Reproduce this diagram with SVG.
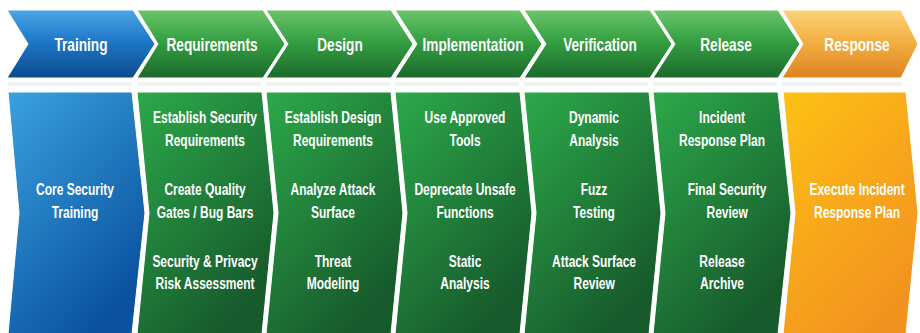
<svg xmlns="http://www.w3.org/2000/svg" width="920" height="333" viewBox="0 0 920 333">
<defs>
<linearGradient id="hb" x1="0" y1="0" x2="0" y2="1"><stop offset="0" stop-color="#4aa6e6"/><stop offset="0.45" stop-color="#1f78c8"/><stop offset="1" stop-color="#0b4a8e"/></linearGradient>
<linearGradient id="hg" x1="0" y1="0" x2="0" y2="1"><stop offset="0" stop-color="#6cc56a"/><stop offset="0.45" stop-color="#35a043"/><stop offset="1" stop-color="#1c6a2b"/></linearGradient>
<linearGradient id="ho" x1="0" y1="0" x2="0" y2="1"><stop offset="0" stop-color="#fbd27a"/><stop offset="0.45" stop-color="#f3b043"/><stop offset="1" stop-color="#dd8420"/></linearGradient>
<linearGradient id="pb" x1="0" y1="0" x2="0.6" y2="1"><stop offset="0" stop-color="#3aa2de"/><stop offset="1" stop-color="#0a52a0"/></linearGradient>
<linearGradient id="pg" x1="0" y1="0" x2="0.6" y2="1"><stop offset="0" stop-color="#2ca94a"/><stop offset="1" stop-color="#175a2c"/></linearGradient>
<linearGradient id="po" x1="0" y1="0" x2="0.6" y2="1"><stop offset="0" stop-color="#fdc114"/><stop offset="1" stop-color="#f3931f"/></linearGradient>
</defs>
<style>
.hd{stroke:#ffffff;stroke-width:1;stroke-linejoin:round}
.pn{stroke:#ffffff;stroke-width:1}
.refl{fill:#f1f3f1}
text{font-family:"Liberation Sans",Arial,sans-serif;font-weight:bold;fill:#ffffff;text-anchor:middle;transform-box:fill-box;transform-origin:center}
.h{font-size:18px;transform:scaleX(0.76)}
.b{font-size:16px;transform:scaleX(0.75)}
</style>
<rect width="920" height="333" fill="#ffffff"/>
<g id="reflections">
<rect class="refl" x="8" y="82" width="124" height="4"/>
<rect class="refl" x="137" y="82" width="124" height="4"/>
<rect class="refl" x="266" y="82" width="124" height="4"/>
<rect class="refl" x="395" y="82" width="124" height="4"/>
<rect class="refl" x="524" y="82" width="124" height="4"/>
<rect class="refl" x="653" y="82" width="124" height="4"/>
<rect class="refl" x="782" y="82" width="120" height="4" fill="#f8f0e6"/>
</g>
<g id="training">
<polygon class="hd" fill="url(#hb)" points="7,10 133,10 155,44 133,78 7,78 28,44"/>
<text class="h" x="81" y="51">Training</text>
<polygon class="pn" fill="url(#pb)" points="8,92 132,92 145,213 132,334 8,334 19,213"/>
<text class="b" x="75" y="195">Core Security</text>
<text class="b" x="75" y="218">Training</text>
</g>
<g id="requirements">
<polygon class="hd" fill="url(#hg)" points="137,10 263,10 285,44 263,78 137,78 158,44"/>
<text class="h" x="212" y="51">Requirements</text>
<polygon class="pn" fill="url(#pg)" points="137,92 262,92 274,213 262,334 137,334 149,213"/>
<text class="b" x="205" y="123">Establish Security</text>
<text class="b" x="205" y="146">Requirements</text>
<text class="b" x="205" y="195">Create Quality</text>
<text class="b" x="205" y="218">Gates / Bug Bars</text>
<text class="b" x="205" y="267">Security &amp; Privacy</text>
<text class="b" x="205" y="289">Risk Assessment</text>
</g>
<g id="design">
<polygon class="hd" fill="url(#hg)" points="266,10 391,10 413,44 391,78 266,78 288,44"/>
<text class="h" x="340" y="51">Design</text>
<polygon class="pn" fill="url(#pg)" points="266,92 391,92 403,213 391,334 266,334 278,213"/>
<text class="b" x="333" y="123">Establish Design</text>
<text class="b" x="333" y="146">Requirements</text>
<text class="b" x="333" y="195">Analyze Attack</text>
<text class="b" x="333" y="218">Surface</text>
<text class="b" x="333" y="267">Threat</text>
<text class="b" x="333" y="289">Modeling</text>
</g>
<g id="implementation">
<polygon class="hd" fill="url(#hg)" points="395,10 520,10 542,44 520,78 395,78 417,44"/>
<text class="h" x="473" y="51">Implementation</text>
<polygon class="pn" fill="url(#pg)" points="395,92 520,92 532,213 520,334 395,334 407,213"/>
<text class="b" x="465" y="123">Use Approved</text>
<text class="b" x="465" y="146">Tools</text>
<text class="b" x="465" y="195">Deprecate Unsafe</text>
<text class="b" x="465" y="218">Functions</text>
<text class="b" x="465" y="267">Static</text>
<text class="b" x="465" y="289">Analysis</text>
</g>
<g id="verification">
<polygon class="hd" fill="url(#hg)" points="524,10 650,10 672,44 650,78 524,78 546,44"/>
<text class="h" x="600" y="51">Verification</text>
<polygon class="pn" fill="url(#pg)" points="524,92 649,92 661,213 649,334 524,334 536,213"/>
<text class="b" x="594" y="123">Dynamic</text>
<text class="b" x="594" y="146">Analysis</text>
<text class="b" x="594" y="195">Fuzz</text>
<text class="b" x="594" y="218">Testing</text>
<text class="b" x="594" y="267">Attack Surface</text>
<text class="b" x="594" y="289">Review</text>
</g>
<g id="release">
<polygon class="hd" fill="url(#hg)" points="653,10 778,10 800,44 778,78 653,78 675,44"/>
<text class="h" x="726" y="51">Release</text>
<polygon class="pn" fill="url(#pg)" points="653,92 778,92 791,213 778,334 653,334 665,213"/>
<text class="b" x="722" y="123">Incident</text>
<text class="b" x="722" y="146">Response Plan</text>
<text class="b" x="727" y="195">Final Security</text>
<text class="b" x="727" y="218">Review</text>
<text class="b" x="722" y="267">Release</text>
<text class="b" x="722" y="289">Archive</text>
</g>
<g id="response">
<polygon class="hd" fill="url(#ho)" points="782,10 901,10 918,44 901,78 782,78 803,44"/>
<text class="h" x="857" y="51">Response</text>
<polygon class="pn" fill="url(#po)" points="783,92 906,92 918,213 906,334 783,334 795,213"/>
<text class="b" x="857" y="195">Execute Incident</text>
<text class="b" x="857" y="218">Response Plan</text>
</g>
<g id="connectors"/>
</svg>
